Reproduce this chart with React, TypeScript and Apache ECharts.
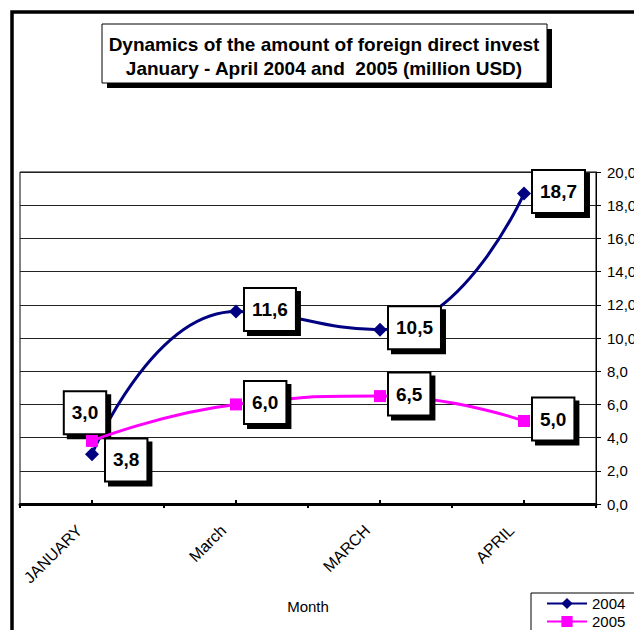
import React, { useEffect, useRef } from "react";
import * as echarts from "echarts";

const categories = ["JANUARY", "March", "MARCH", "APRIL"];
const values2004 = [3.0, 11.6, 10.5, 18.7];
const values2005 = [3.8, 6.0, 6.5, 5.0];
const seriesNames = ["2004", "2005"];
const titleLines = [
  "Dynamics of the amount of foreign direct invest",
  "January - April 2004 and  2005 (million USD)",
];
const axisName = "Month";

const FONT = '"Liberation Sans", Arial, sans-serif';

const fmt = (v: number) => v.toFixed(1).replace(".", ",");

const labelBase = {
  show: true,
  position: "right",
  formatter: (p: any) => fmt(p.value),
  fontFamily: FONT,
  fontSize: 19,
  fontWeight: "bold",
  color: "#000",
  backgroundColor: "#fff",
  borderColor: "#000",
  borderWidth: 2,
  padding: [10, 7],
  lineHeight: 21,
  shadowColor: "#000",
  shadowOffsetX: 4,
  shadowOffsetY: 4,
  shadowBlur: 0,
  offset: [0, -2],
};

export default function App() {
  const ref = useRef<HTMLDivElement>(null);
  useEffect(() => {
    document.body.style.margin = "0";
    const chart = echarts.init(ref.current!, null, { renderer: "svg" });
    const d2004 = values2004.map((v, i) =>
      i === 0
        ? { value: v, label: { position: "top", distance: 14, offset: [-7, 0] } }
        : { value: v }
    );
    const d2005 = values2005.map((v, i) =>
      i === 0 ? { value: v, label: { position: "right", offset: [5, 19] } } : { value: v }
    );
    chart.setOption({
      animation: false,
      backgroundColor: "#fff",
      title: {
        text: titleLines.join("\n"),
        left: 324,
        top: 32,
        padding: 0,
        textAlign: "center",
        z: 10,
        textStyle: {
          fontFamily: FONT,
          fontSize: 19,
          fontWeight: "bold",
          color: "#000",
          lineHeight: 24.5,
        },
      },
      graphic: [
        {
          type: "rect",
          z: 1,
          silent: true,
          shape: { x: 12, y: 12, width: 700, height: 700 },
          style: { fill: "none", stroke: "#000", lineWidth: 3.5 },
        },
        {
          type: "rect",
          z: 1,
          silent: true,
          shape: { x: 107, y: 29, width: 445, height: 59 },
          style: { fill: "#000" },
        },
        {
          type: "rect",
          z: 2,
          silent: true,
          shape: { x: 102, y: 24, width: 445, height: 59 },
          style: { fill: "#fff", stroke: "#000", lineWidth: 1 },
        },
      ],
      legend: {
        data: seriesNames,
        orient: "vertical",
        left: 531,
        top: 593,
        height: 60,
        padding: [3, 20, 2, 15],
        itemWidth: 40,
        itemHeight: 14,
        itemGap: 3,
        backgroundColor: "#fff",
        borderColor: "#000",
        borderWidth: 1,
        textStyle: { fontFamily: FONT, fontSize: 15, color: "#000", lineHeight: 14 },
      },
      grid: {
        left: 20,
        right: 38,
        top: 172,
        bottom: 126,
        show: true,
        borderColor: "#000",
        borderWidth: 1,
        containLabel: false,
        outerBoundsMode: "none",
      },
      xAxis: [
        {
          type: "category",
          data: categories,
          boundaryGap: true,
          name: axisName,
          nameLocation: "middle",
          nameGap: 95,
          nameTextStyle: { fontFamily: FONT, fontSize: 15, color: "#000" },
          axisLine: { show: true, lineStyle: { color: "#000", width: 3 } },
          axisTick: { show: true, inside: false, length: 4, lineStyle: { color: "#000", width: 2 } },
          axisLabel: {
            interval: 0,
            rotate: 45,
            margin: 11,
            padding: [0, 18, 0, 0],
            fontFamily: FONT,
            fontSize: 16,
            color: "#000",
          },
          splitLine: { show: false },
        },
        {
          type: "category",
          data: categories,
          position: "bottom",
          boundaryGap: true,
          axisLine: { show: false },
          axisTick: {
            show: true,
            inside: true,
            alignWithLabel: true,
            length: 4,
            lineStyle: { color: "#000", width: 2 },
          },
          axisLabel: { show: false },
          splitLine: { show: false },
        },
      ],
      yAxis: {
        type: "value",
        position: "right",
        min: 0,
        max: 20,
        interval: 2,
        axisLine: { show: true, lineStyle: { color: "#000", width: 1 } },
        axisTick: { show: true, inside: false, length: 5, lineStyle: { color: "#000" } },
        axisLabel: {
          margin: 11,
          fontFamily: FONT,
          fontSize: 15,
          color: "#000",
          formatter: (v: number) => fmt(v),
        },
        splitLine: { show: true, lineStyle: { color: "#222", width: 1 } },
      },
      series: [
        {
          name: seriesNames[0],
          type: "line",
          data: d2004,
          smooth: true,
          symbol: "diamond",
          symbolSize: 14,
          lineStyle: { color: "#000080", width: 3 },
          itemStyle: { color: "#000080" },
          label: { ...labelBase, distance: 2 },
          z: 3,
        },
        {
          name: seriesNames[1],
          type: "line",
          data: d2005,
          smooth: true,
          symbol: "rect",
          symbolSize: 12,
          lineStyle: { color: "#ff00ff", width: 3 },
          itemStyle: { color: "#ff00ff" },
          label: { ...labelBase, distance: 3 },
          z: 4,
        },
      ],
    });
    return () => chart.dispose();
  }, []);
  return <div ref={ref} style={{ width: 634, height: 630 }} />;
}
